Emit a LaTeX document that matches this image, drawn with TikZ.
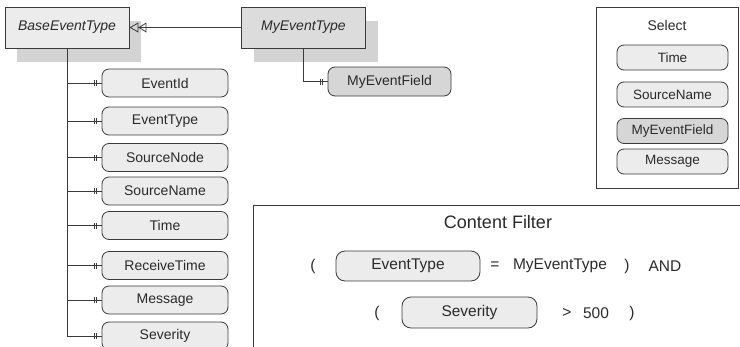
\documentclass[tikz,border=0pt]{standalone}
\usepackage{fontspec}
\setmainfont{Liberation Sans}
\usetikzlibrary{arrows.meta,shadows,decorations.markings}
\definecolor{boxfill}{HTML}{ECECEC}
\definecolor{darkfill}{HTML}{D6D6D6}
\definecolor{typefill}{HTML}{DCDCDC}
\definecolor{shadowc}{HTML}{D3D3D3}
\definecolor{linec}{HTML}{3A3A3A}
\definecolor{textc}{HTML}{2A2A2A}
\begin{document}
\begin{tikzpicture}[x=1pt,y=-1pt,
  typebox/.style={draw=linec, line width=0.8pt, minimum width=124pt, minimum height=41pt, inner sep=0pt,
    text=textc, font=\fontsize{14}{16}\selectfont\itshape,
    drop shadow={shadow xshift=12pt, shadow yshift=-14pt, fill=shadowc, opacity=1, draw=none}},
  field/.style={draw=linec, line width=0.8pt, rounded corners=7pt, fill=boxfill, minimum width=126pt,
    minimum height=28pt, inner sep=0pt, text=textc, font=\fontsize{14}{16}\selectfont},
  selfield/.style={field, minimum width=111pt, minimum height=25pt, font=\fontsize{13.5}{15}\selectfont},
  cffield/.style={field, rounded corners=9pt, minimum height=30pt, font=\fontsize{15.5}{18}\selectfont},
  cftext/.style={inner sep=0pt, text=textc, font=\fontsize{15.5}{18}\selectfont},
  tree/.style={draw=linec, line width=0.8pt, postaction={decorate},
    decoration={markings,
      mark=at position -5pt with {\draw[linec, line width=0.6pt] (0,-3pt) -- (0,3pt);},
      mark=at position -7.5pt with {\draw[linec, line width=0.6pt] (0,-3pt) -- (0,3pt);}}},
  frame/.style={draw=linec, line width=0.8pt}
]
\useasboundingbox (0,0) rectangle (740,346);

% type boxes
\node[typebox, fill=boxfill] (base) at (67,27.5) {BaseEventType};
\node[typebox, fill=typefill] (my) at (303.5,27.5) {MyEventType};

% inheritance
\draw[linec, line width=0.8pt, -{Triangle[open,length=8pt,width=10pt] Triangle[open,length=9pt,width=10pt]}] (my.west) -- (base.east);

% fields of BaseEventType
\node[field] (f1) at (165,83) {EventId};
\node[field] (f2) at (165,121) {EventType};
\node[field] (f3) at (165,157.5) {SourceNode};
\node[field] (f4) at (165,191) {SourceName};
\node[field] (f5) at (165,225.5) {Time};
\node[field] (f6) at (165,265.5) {ReceiveTime};
\node[field] (f7) at (165,300) {Message};
\node[field] (f8) at (165,336) {Severity};

\foreach \f in {f1,f2,f3,f4,f5,f6,f7,f8}
  \draw[tree] (base.south) |- (\f.west);

% field of MyEventType
\node[field, fill=darkfill, minimum width=123pt, minimum height=29pt] (mf) at (389.5,81.5) {MyEventField};
\draw[tree] (my.south) |- (mf.west);

% Select box
\node[frame, minimum width=142pt, minimum height=181pt, inner sep=0pt, anchor=north west] (selbox) at (596,7) {};
\node[text=textc, font=\fontsize{14}{16}\selectfont] (seltitle) at (667,25) {Select};
\node[selfield] (s1) at (672.5,57.5) {Time};
\node[selfield] (s2) at (672.5,94.5) {SourceName};
\node[selfield, fill=darkfill] (s3) at (672.5,131) {MyEventField};
\node[selfield] (s4) at (672.5,161.5) {Message};

% Content filter frame
\coordinate (cfa) at (741,205);
\coordinate (cfb) at (253,205);
\coordinate (cfc) at (253,347);
\draw[frame] (cfa) -- (cfb) -- (cfc);
\node[text=textc, font=\fontsize{18}{21}\selectfont] (cftitle) at (498,222) {Content Filter};

% row 1
\node[cftext] (p1) at (313,266) {(};
\node[cffield, minimum width=144pt] (c1) at (408,266) {EventType};
\node[cftext] (eq) at (495,266) {=};
\node[cftext] (myv) at (560,266) {MyEventType};
\node[cftext] (p2) at (627,266) {)};
\node[cftext] (and) at (665,266) {AND};

% row 2
\node[cftext] (p3) at (377,313) {(};
\node[cffield, minimum width=135pt, minimum height=31pt] (c2) at (469.5,312.5) {Severity};
\node[cftext] (gt) at (567,313) {>};
\node[cftext] (num) at (596,313) {500};
\node[cftext] (p4) at (632,313) {)};
\end{tikzpicture}
\end{document}
